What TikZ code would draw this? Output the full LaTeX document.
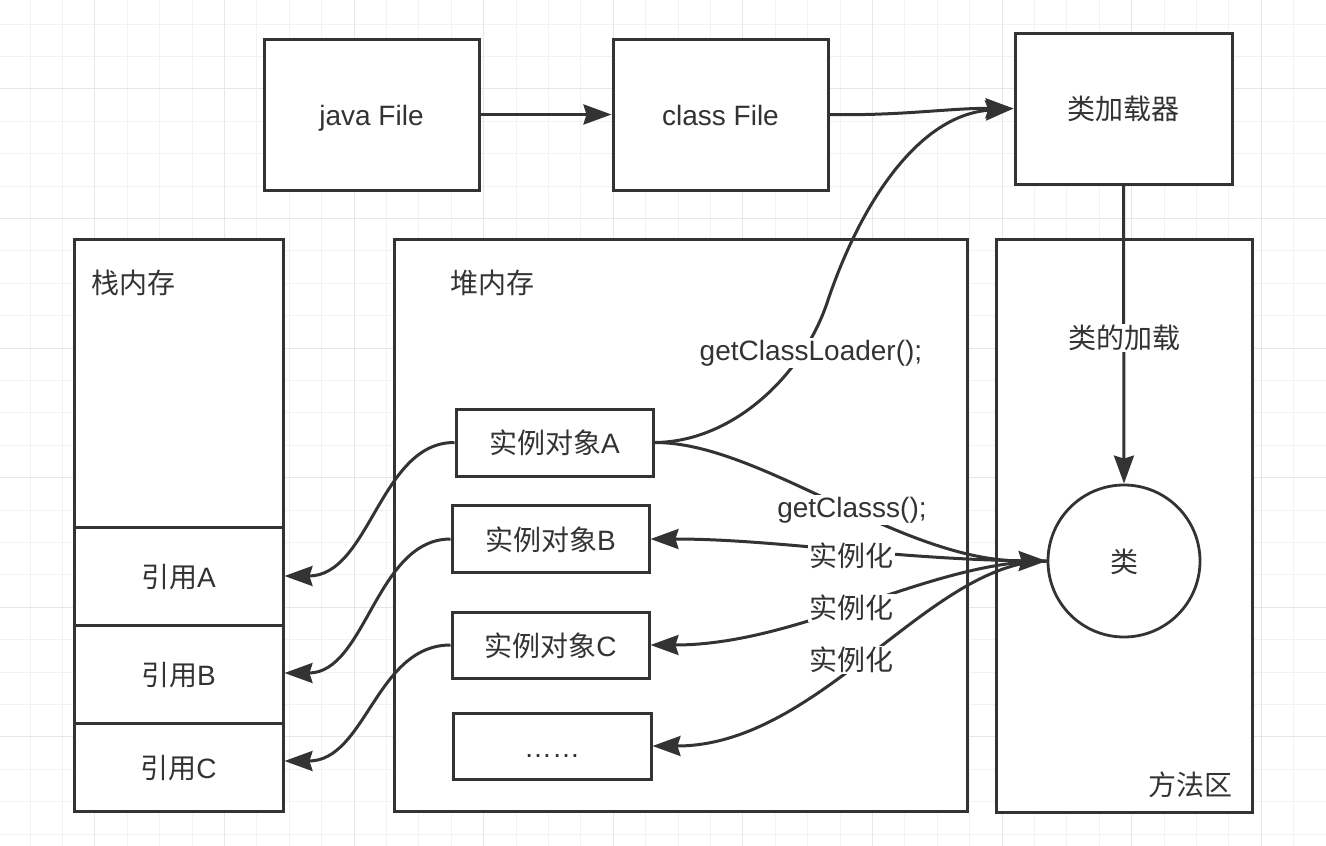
\documentclass[tikz,border=0pt]{standalone}
\usepackage{fontspec}
\setmainfont{Liberation Sans}
\newfontfamily\cjk{Noto Sans CJK SC}
\usetikzlibrary{arrows.meta}
\definecolor{ink}{HTML}{333333}
\definecolor{gridminor}{HTML}{F2F2F2}
\definecolor{gridmajor}{HTML}{E6E6E6}
\newcommand\dfont{\fontsize{28}{32}\selectfont}
\begin{document}
\begin{tikzpicture}[x=1pt,y=-1pt,
  box/.style={draw=ink, line width=3pt, fill=white, rectangle, inner sep=0pt, text=ink, font=\dfont, text height=26pt, text depth=4pt},
  conn/.style={draw=ink, line width=3pt, -{Stealth[length=28pt,width=20pt,inset=3pt]}},
  lbl/.style={fill=white, inner sep=1.5pt, text=ink, font=\dfont},
  title/.style={text=ink, font=\dfont, inner sep=0pt}]
\useasboundingbox (0,0) rectangle (1326,846);
\fill[white] (0,0) rectangle (1326,846);
% grid
\foreach \i in {0,...,40} {\draw[gridminor, line width=1pt] (30+\i*32.4,0) -- (30+\i*32.4,846);}
\foreach \i in {0,...,26} {\draw[gridminor, line width=1pt] (0,24+\i*32.4) -- (1326,24+\i*32.4);}
\foreach \i in {0,...,9} {\draw[gridmajor, line width=1pt] (94.8+\i*129.6,0) -- (94.8+\i*129.6,846);}
\foreach \i in {0,...,6} {\draw[gridmajor, line width=1pt] (0,88.8+\i*129.6) -- (1326,88.8+\i*129.6);}

% top row
\node[box, minimum width=215pt, minimum height=151pt] (java) at (371.5,114.5) {java File};
\node[box, minimum width=215pt, minimum height=151pt] (class) at (720.5,114.5) {class File};
\node[box, minimum width=217pt, minimum height=151pt] (loader) at (1123.5,108.5) {\cjk 类加载器};

% stack
\node[box, minimum width=209pt, minimum height=572pt] (stack) at (178.5,525) {};
\node[box, minimum width=209pt, minimum height=98pt] (refA) at (178.5,576) {\cjk 引用\rmfamily A};
\node[box, minimum width=209pt, minimum height=98pt] (refB) at (178.5,674) {\cjk 引用\rmfamily B};
\node[box, minimum width=209pt, minimum height=88pt] (refC) at (178.5,767) {\cjk 引用\rmfamily C};
\node[title, anchor=west] (stackT) at (91,283) {\cjk 栈内存};

% heap
\node[box, minimum width=573pt, minimum height=572pt] (heap) at (680.5,525) {};
\node[title, anchor=west] (heapT) at (450,283) {\cjk 堆内存};
\node[box, minimum width=197pt, minimum height=67pt] (instA) at (554.5,442.5) {\cjk 实例对象\rmfamily A};
\node[box, minimum width=197pt, minimum height=67pt] (instB) at (550.5,539) {\cjk 实例对象\rmfamily B};
\node[box, minimum width=197pt, minimum height=66pt] (instC) at (550.5,645) {\cjk 实例对象\rmfamily C};
\node[box, minimum width=198pt, minimum height=66pt] (dots) at (552,746) {……};

% method area
\node[box, minimum width=256pt, minimum height=573pt] (method) at (1124,525.5) {};
\node[title, anchor=east] (methodT) at (1233,785) {\cjk 方法区};
\node[box, circle, line width=2.8pt, minimum size=152pt] (cls) at (1124,561) {\cjk 类};

% connectors
\draw[conn] (java.east) -- (class.west);
\draw[conn] (class.east) .. controls (900,116) and (950,108) .. (loader.west);
\draw[conn] (instA.east) .. controls (735,442) and (805,372) .. (828,300) .. controls (862,200) and (920,115) .. (loader.west);
\draw[conn] (instA.east) .. controls (760,442) and (900,561) .. (cls.west);
\draw[conn] (cls.west) .. controls (900,561) and (780,539) .. (instB.east);
\draw[conn] (cls.west) .. controls (930,561) and (800,645) .. (instC.east);
\draw[conn] (cls.west) .. controls (930,561) and (820,746) .. (dots.east);
\draw[conn] (loader.south) -- (cls.north);
\draw[conn] (instA.west) .. controls (380,442) and (370,576) .. (refA.east);
\draw[conn] (instB.west) .. controls (376,539) and (366,673) .. ([yshift=1pt]refB.east);
\draw[conn] (instC.west) .. controls (376,645) and (366,761) .. ([yshift=6pt]refC.east);

% labels
\node[lbl] (lgcl) at (811,353) {getClassLoader();};
\node[lbl] (lgc) at (852,510) {getClasss();};
\node[lbl] (l1) at (851,556) {\cjk 实例化};
\node[lbl] (l2) at (851,608) {\cjk 实例化};
\node[lbl] (l3) at (851,660) {\cjk 实例化};
\node[lbl] (lload) at (1124,338) {\cjk 类的加载};
\end{tikzpicture}
\end{document}
